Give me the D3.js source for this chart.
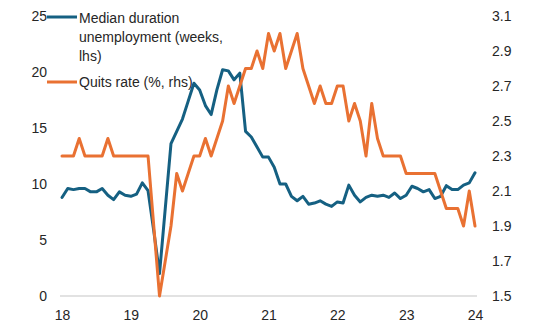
<!DOCTYPE html>
<html>
<head>
<meta charset="utf-8">
<script src="https://cdn.jsdelivr.net/npm/d3@7"></script>
<style>
  html, body { margin: 0; padding: 0; background: #fff; }
  svg { display: block; }
  text { font-family: "Liberation Sans", Arial, sans-serif; font-size: 14px; fill: #262626; }
</style>
</head>
<body>
<svg id="chart" width="542" height="334"></svg>
<script>
// ---- data ----
const xTickLabels = ["18", "19", "20", "21", "22", "23", "24"];
const xTickMonths = [0, 12, 24, 36, 48, 60, 72];
const leftTicks = [0, 5, 10, 15, 20, 25];
const rightTicks = [1.5, 1.7, 1.9, 2.1, 2.3, 2.5, 2.7, 2.9, 3.1];

// Median duration of unemployment (weeks, lhs), monthly
const medianDuration = [
  8.8, 9.6, 9.5, 9.6, 9.6, 9.3, 9.3, 9.6, 9.0, 8.6, 9.3, 9.0,
  8.9, 9.1, 10.1, 9.4, 5.8, 2.0, 7.8, 13.6, 14.7, 15.8, 17.4, 19.0,
  18.4, 17.0, 16.2, 18.4, 20.2, 20.1, 19.3, 19.9, 14.7, 14.2, 13.3, 12.4,
  12.4, 11.5, 10.0, 10.0, 8.9, 8.5, 8.9, 8.2, 8.3, 8.5, 8.2, 8.0,
  8.4, 8.3, 9.9, 9.0, 8.4, 8.8, 9.0, 8.9, 9.0, 8.8, 9.2, 8.7,
  9.0, 9.8, 9.6, 9.3, 9.5, 8.7, 8.9, 9.85, 9.5, 9.5, 9.9, 10.1,
  11.0
];
// Quits rate (%, rhs), monthly
const quitsRate = [
  2.3, 2.3, 2.3, 2.4, 2.3, 2.3, 2.3, 2.3, 2.4, 2.3, 2.3, 2.3,
  2.3, 2.3, 2.3, 2.3, 1.9, 1.5, 1.7, 1.9, 2.2, 2.1, 2.2, 2.3,
  2.3, 2.4, 2.3, 2.4, 2.5, 2.7, 2.6, 2.7, 2.8, 2.8, 2.9, 2.8,
  3.0, 2.9, 3.0, 2.8, 2.9, 3.0, 2.8, 2.7, 2.6, 2.7, 2.6, 2.6,
  2.7, 2.7, 2.5, 2.6, 2.5, 2.3, 2.6, 2.4, 2.3, 2.3, 2.3, 2.3,
  2.2, 2.2, 2.2, 2.2, 2.2, 2.2, 2.1, 2.0, 2.0, 2.0, 1.9, 2.1,
  1.9
];
const seriesNames = ["Median duration", "unemployment (weeks,", "lhs)"];
const series2Name = "Quits rate (%, rhs)";
const colors = { blue: "#156082", orange: "#E97132" };

// ---- drawing ----
const svg = d3.select("#chart");
const x = d3.scaleLinear().domain([0, 72]).range([62, 475]);
const yL = d3.scaleLinear().domain([0, 25]).range([296, 16]);
const yR = d3.scaleLinear().domain([1.5, 3.1]).range([296, 16]);

// baseline
svg.append("line")
  .attr("x1", 60).attr("x2", 477)
  .attr("y1", yL(0)).attr("y2", yL(0))
  .attr("stroke", "#d9d9d9").attr("stroke-width", 1.5);

// left axis
const gL = svg.append("g").attr("transform", "translate(47,0)")
  .call(d3.axisLeft(yL).tickValues(leftTicks).tickSize(0).tickPadding(0).tickFormat(d3.format("d")));
gL.select(".domain").remove();
gL.selectAll("text").attr("font-family", null).attr("font-size", null).attr("fill", null).attr("dy", "0.35em");

// right axis
const gR = svg.append("g").attr("transform", "translate(492,0)")
  .call(d3.axisRight(yR).tickValues(rightTicks).tickSize(0).tickPadding(0).tickFormat(d3.format(".1f")));
gR.select(".domain").remove();
gR.selectAll("text").attr("font-family", null).attr("font-size", null).attr("fill", null).attr("dy", "0.35em");

// x axis
const gX = svg.append("g").attr("transform", "translate(0,310)")
  .call(d3.axisBottom(x).tickValues(xTickMonths).tickSize(0).tickPadding(0)
    .tickFormat((d, i) => xTickLabels[i]));
gX.select(".domain").remove();
gX.selectAll("text").attr("font-family", null).attr("font-size", null).attr("fill", null).attr("dy", "0.71em");

// lines
const lineL = d3.line().x((d, i) => x(i)).y(d => yL(d));
const lineR = d3.line().x((d, i) => x(i)).y(d => yR(d));
svg.append("path").datum(medianDuration)
  .attr("d", lineL).attr("fill", "none").attr("stroke", colors.blue)
  .attr("stroke-width", 3).attr("stroke-linejoin", "round").attr("stroke-linecap", "round");
svg.append("path").datum(quitsRate)
  .attr("d", lineR).attr("fill", "none").attr("stroke", colors.orange)
  .attr("stroke-width", 3).attr("stroke-linejoin", "round").attr("stroke-linecap", "round");

// legend
const leg = svg.append("g");
leg.append("line").attr("x1", 47).attr("x2", 77).attr("y1", 17).attr("y2", 17)
  .attr("stroke", colors.blue).attr("stroke-width", 3);
seriesNames.forEach((t, i) => {
  leg.append("text").attr("x", 79).attr("y", 23 + i * 19).text(t);
});
leg.append("line").attr("x1", 47).attr("x2", 77).attr("y1", 82).attr("y2", 82)
  .attr("stroke", colors.orange).attr("stroke-width", 3);
leg.append("text").attr("x", 79).attr("y", 87).text(series2Name);
</script>
</body>
</html>
